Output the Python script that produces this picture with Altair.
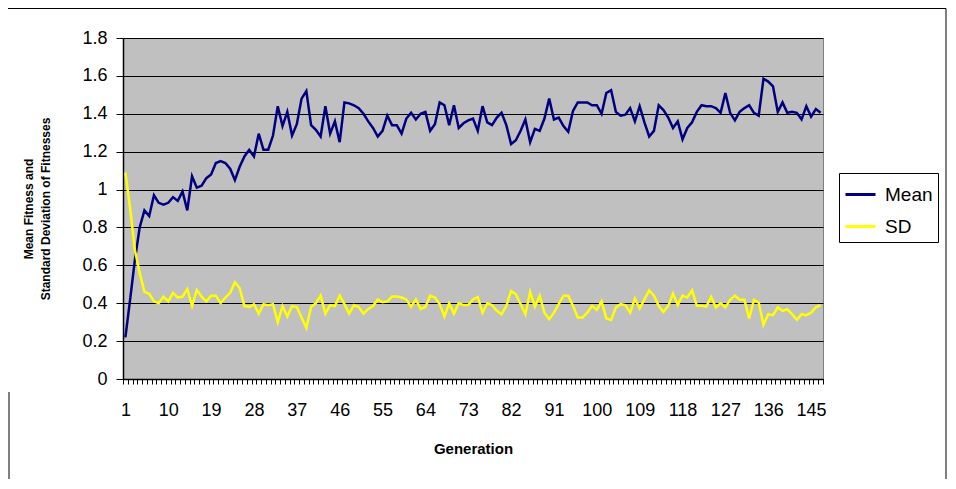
import altair as alt
import pandas as pd

generations = list(range(1, 148))

mean_fitness = [
    0.22, 0.42, 0.63, 0.80, 0.89, 0.86, 0.97, 0.93, 0.92, 0.93, 0.96, 0.94, 0.99, 0.89, 1.07, 1.01,
    1.02, 1.06, 1.08, 1.14, 1.15, 1.14, 1.11, 1.05,
    1.12, 1.175, 1.21, 1.175, 1.295, 1.21, 1.21, 1.285, 1.44, 1.335, 1.41, 1.285, 1.345, 1.48, 1.52,
    1.34, 1.315, 1.28, 1.44, 1.295, 1.36, 1.25, 1.46, 1.455,
    1.445, 1.43, 1.40, 1.36, 1.325, 1.28, 1.31, 1.39, 1.34, 1.34, 1.295, 1.375, 1.405, 1.37, 1.40,
    1.41, 1.31, 1.345, 1.46, 1.445, 1.34, 1.445, 1.325, 1.35, 1.365,
    1.375, 1.31, 1.44, 1.355, 1.34, 1.38, 1.405, 1.34, 1.24, 1.26, 1.31, 1.37, 1.25, 1.32, 1.31,
    1.375, 1.48, 1.37, 1.38, 1.335, 1.305, 1.415, 1.46, 1.46,
    1.46, 1.445, 1.445, 1.40, 1.51, 1.525, 1.41, 1.39, 1.395, 1.43, 1.36, 1.44, 1.355, 1.28, 1.31,
    1.445, 1.42, 1.38, 1.325, 1.36, 1.265, 1.325, 1.355, 1.41, 1.445,
    1.44, 1.44, 1.43, 1.405, 1.51, 1.405, 1.365, 1.41, 1.43, 1.445, 1.405, 1.39, 1.585, 1.57, 1.545,
    1.41, 1.46, 1.405, 1.41, 1.405, 1.37, 1.44, 1.385, 1.425, 1.405,
]

sd_fitness = [
    1.09, 0.90, 0.68, 0.56, 0.46, 0.45, 0.41, 0.40, 0.435, 0.41, 0.455, 0.43, 0.435, 0.475, 0.385,
    0.47, 0.435, 0.41, 0.44, 0.44, 0.40, 0.43, 0.455, 0.51,
    0.48, 0.385, 0.38, 0.395, 0.345, 0.395, 0.39, 0.395, 0.30, 0.385, 0.33, 0.385, 0.38, 0.325, 0.27,
    0.38, 0.40, 0.44, 0.345, 0.39, 0.385, 0.44, 0.395, 0.345,
    0.39, 0.38, 0.345, 0.37, 0.385, 0.42, 0.405, 0.41, 0.435, 0.435, 0.43, 0.42, 0.38, 0.42, 0.37,
    0.38, 0.44, 0.43, 0.395, 0.33, 0.40, 0.345, 0.40, 0.39, 0.39,
    0.42, 0.433, 0.35, 0.40, 0.39, 0.36, 0.342, 0.386, 0.465, 0.447, 0.395, 0.342, 0.46, 0.382, 0.44,
    0.35, 0.316, 0.35, 0.395, 0.44, 0.44, 0.386, 0.325, 0.325,
    0.35, 0.386, 0.365, 0.41, 0.32, 0.312, 0.378, 0.395, 0.39, 0.35, 0.425, 0.372, 0.42, 0.468, 0.44,
    0.386, 0.354, 0.386, 0.451, 0.39, 0.44, 0.43, 0.468, 0.386, 0.386,
    0.382, 0.433, 0.378, 0.40, 0.378, 0.418, 0.44, 0.418, 0.418, 0.32, 0.418, 0.404, 0.286, 0.342,
    0.337, 0.378, 0.36, 0.368, 0.342, 0.312, 0.342, 0.337, 0.35, 0.378, 0.39,
]

series_names = ["Mean", "SD"]
series_colors = ["#000080", "#FFFF00"]
x_label_values = [1, 10, 19, 28, 37, 46, 55, 64, 73, 82, 91, 100, 109, 118, 127, 136, 145]
y_tick_values = [0, 0.2, 0.4, 0.6, 0.8, 1, 1.2, 1.4, 1.6, 1.8]
y_title = ["Mean Fitness and", "Standard Deviation of Fitnesses"]
x_title = "Generation"

n = len(generations)
df = pd.DataFrame({
    "Generation": generations * 2,
    "Value": mean_fitness + sd_fitness,
    "Series": [series_names[0]] * n + [series_names[1]] * n,
})

PLOT_W = 700
PLOT_H = 341
half_band = PLOT_W / n / 2
boundaries = [g - 0.5 for g in generations] + [generations[-1] + 0.5]
label_expr = (
    f"indexof({x_label_values}, datum.value + 0.5) >= 0 ? "
    f"format(datum.value + 0.5, 'd') : ''"
)

lines = alt.Chart(df).mark_line(strokeWidth=2.5).encode(
    x=alt.X(
        "Generation:Q",
        scale=alt.Scale(domain=[0.5, n + 0.5], nice=False, zero=False),
        axis=alt.Axis(
            values=boundaries,
            labelExpr=label_expr,
            labelOffset=half_band,
            labelOverlap=False,
            labelFlush=False,
            labelBound=False,
            grid=False,
            tickSize=5,
            tickColor="black",
            domainColor="black",
            domainWidth=1.5,
            labelFontSize=18,
            labelPadding=17,
            labelColor="black",
            title=x_title,
            titleFontSize=15,
            titleFontWeight="bold",
            titlePadding=22,
            titleColor="black",
        ),
    ),
    y=alt.Y(
        "Value:Q",
        scale=alt.Scale(domain=[0, 1.8], nice=False),
        axis=alt.Axis(
            values=y_tick_values,
            format=".1~f",
            grid=True,
            gridColor="black",
            gridWidth=1,
            tickSize=7,
            tickColor="black",
            domainColor="black",
            domainWidth=1.5,
            labelFontSize=18,
            labelPadding=9,
            labelColor="black",
            title=y_title,
            titleFontSize=12,
            titleFontWeight="bold",
            titleLineHeight=17,
            titlePadding=29,
            titleColor="black",
        ),
    ),
    color=alt.Color(
        "Series:N",
        scale=alt.Scale(domain=series_names, range=series_colors),
        sort=series_names,
        legend=alt.Legend(
            orient="none",
            legendX=716,
            legendY=135,
            title=None,
            symbolType="stroke",
            symbolSize=900,
            symbolStrokeWidth=3,
            labelFontSize=19,
            labelColor="black",
            labelOffset=8,
            rowPadding=5,
            padding=5,
            strokeColor="black",
            fillColor="white",
        ),
    ),
)

frame_df = pd.DataFrame({"k": [0]})
top_rule = alt.Chart(frame_df).mark_rule(color="black", strokeWidth=1).encode(
    x=alt.value(-123), x2=alt.value(823), y=alt.value(-29.5)
)
right_rule = alt.Chart(frame_df).mark_rule(color="black", strokeWidth=1).encode(
    x=alt.value(823), y=alt.value(-29.5), y2=alt.value(460)
)
left_rule = alt.Chart(frame_df).mark_rule(color="black", strokeWidth=1).encode(
    x=alt.value(-114), y=alt.value(354), y2=alt.value(460)
)

chart = alt.layer(lines, top_rule, right_rule, left_rule).properties(
    width=PLOT_W,
    height=PLOT_H,
    padding={"left": 115, "top": 30, "right": 125, "bottom": 100},
    autosize=alt.AutoSizeParams(type="none"),
).configure(
    font="Liberation Sans",
).configure_view(
    fill="#C0C0C0",
    stroke="#808080",
    strokeWidth=1,
)

chart.save("out.html", embed_options={"renderer": "svg", "actions": False})
